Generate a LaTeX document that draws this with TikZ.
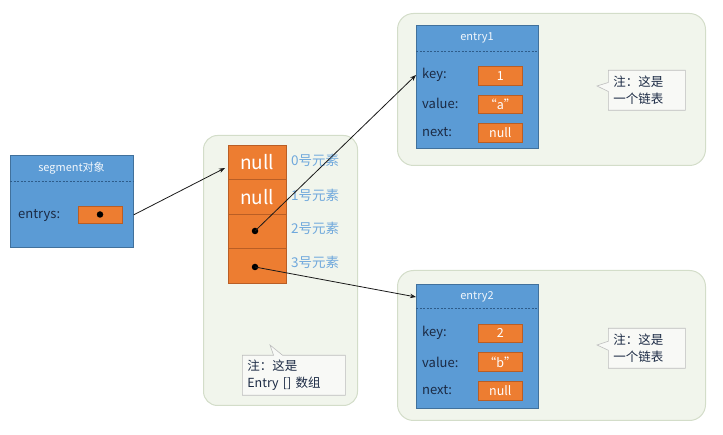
\documentclass[tikz,border=0pt]{standalone}
\usepackage{fontspec}
\setmainfont{Noto Sans CJK SC}
\usetikzlibrary{shapes.callouts,arrows.meta}
\definecolor{blueF}{HTML}{5B9BD5}
\definecolor{blueD}{HTML}{41719C}
\definecolor{sepC}{HTML}{2E5C8A}
\definecolor{orangeF}{HTML}{ED7D31}
\definecolor{orangeD}{HTML}{B95E25}
\definecolor{contF}{HTML}{F1F5EC}
\definecolor{contD}{HTML}{D3DDC9}
\definecolor{navy}{HTML}{1B2A44}
\definecolor{lblue}{HTML}{6FA8DC}
\definecolor{noteF}{HTML}{F8F9F6}
\definecolor{noteD}{HTML}{BDBDBD}
\tikzset{
  bluebox/.style={draw=blueD, fill=blueF, line width=0.8pt, anchor=north west, inner sep=0pt},
  cont/.style={draw=contD, fill=contF, line width=1pt, anchor=north west, inner sep=0pt},
  field/.style={draw=orangeD, fill=orangeF, line width=0.6pt, anchor=north west, inner sep=0pt, minimum width=44pt, text=white, font=\fontsize{12.5}{14}\selectfont},
  cellbox/.style={draw=orangeD, fill=orangeF, line width=0.6pt, anchor=north west, inner sep=0pt, minimum width=58pt, minimum height=34.5pt, text=white, font=\fontsize{19}{21}\selectfont},
  sepline/.style={draw=sepC, dashed, line width=0.6pt, dash pattern=on 2pt off 1.5pt},
  titletxt/.style={text=white!92!blueF, font=\fontsize{11}{13}\selectfont, inner sep=0pt},
  lbl/.style={text=navy, font=\fontsize{13}{15}\selectfont, anchor=west, inner sep=0pt},
  arrlbl/.style={text=lblue, font=\fontsize{13.5}{15}\selectfont, anchor=west, inner sep=0pt},
  dotmark/.style={circle, fill=black, inner sep=0pt, minimum size=6.5pt},
  note/.style={rectangle callout, draw=noteD, fill=noteF, line width=0.6pt, anchor=north west, inner xsep=5pt, inner ysep=1pt, align=left, text=navy, font=\fontsize{12.5}{16.5}\selectfont, callout pointer width=9pt},
  conn/.style={draw=black!90, line width=0.8pt, -{Stealth[length=6pt,width=4.5pt]}}
}
\begin{document}
\begin{tikzpicture}[x=1pt,y=-1pt]
\useasboundingbox (0,0) rectangle (723,435);

% segment object
\node[bluebox, minimum width=123pt, minimum height=92pt] (seg) at (10,155) {};
\node[titletxt] (segt) at (71.5,168) {segment对象};
\draw[sepline] (10,181) -- (133,181);
\node[lbl] (segl) at (18,215) {entrys:};
\node[field, minimum height=17pt] (segf) at (78,206) {};
\node[dotmark] (segd) at (100,214.5) {};

% array container
\node[cont, minimum width=154pt, minimum height=270pt, rounded corners=14pt] (arr) at (203,135) {};
\node[cellbox] (c0) at (228,145) {null};
\node[cellbox] (c1) at (228,179.5) {null};
\node[cellbox] (c2) at (228,214) {};
\node[cellbox] (c3) at (228,248.5) {};
\node[arrlbl] (l0) at (291,160) {0号元素};
\node[arrlbl] (l1) at (291,195) {1号元素};
\node[arrlbl] (l2) at (291,228) {2号元素};
\node[arrlbl] (l3) at (291,262) {3号元素};
\node[dotmark] (d2) at (255,231) {};
\node[dotmark] (d3) at (255,267) {};
\node[note, text width=93pt, minimum height=40pt, callout absolute pointer={(270,345)}] (n0) at (242,355) {注：这是\\Entry [] 数组};

% entry1
\node[cont, minimum width=308pt, minimum height=152pt, rounded corners=16pt] (g1) at (397,13) {};
\node[bluebox, minimum width=122pt, minimum height=123pt] (e1) at (416,25) {};
\node[titletxt] (t1) at (477,38) {entry1};
\draw[sepline] (416,51) -- (538,51);
\node[lbl] (k1) at (422,75) {key:};
\node[lbl] (v1) at (422,103) {value:};
\node[lbl] (x1) at (422,132) {next:};
\node[field, minimum height=19pt] (fk1) at (478,66) {1};
\node[field, minimum height=18pt] (fv1) at (478,95) {“a”};
\node[field, minimum height=19pt] (fx1) at (478,123) {null};
\node[note, text width=67pt, minimum height=40pt, callout absolute pointer={(597,86)}] (n1) at (608,70) {注：这是\\一个链表};

% entry2
\node[cont, minimum width=308pt, minimum height=150pt, rounded corners=16pt] (g2) at (397,270) {};
\node[bluebox, minimum width=122pt, minimum height=124pt] (e2) at (416,284) {};
\node[titletxt] (t2) at (477,297) {entry2};
\draw[sepline] (416,308) -- (538,308);
\node[lbl] (k2) at (422,333) {key:};
\node[lbl] (v2) at (422,362) {value:};
\node[lbl] (x2) at (422,390) {next:};
\node[field, minimum height=18pt] (fk2) at (478,324) {2};
\node[field, minimum height=19pt] (fv2) at (478,352) {“b”};
\node[field, minimum height=19pt] (fx2) at (478,381) {null};
\node[note, text width=67pt, minimum height=40pt, callout absolute pointer={(597,345)}] (n2) at (608,328) {注：这是\\一个链表};

% connectors
\coordinate (a0) at (225,168);
\draw[conn] (seg.east |- segf.east) -- (a0);
\draw[conn] (d2.center) -- (e1.west |- k1.west);
\draw[conn] (d3.center) -- (e2.west |- t2.center);
\end{tikzpicture}
\end{document}
